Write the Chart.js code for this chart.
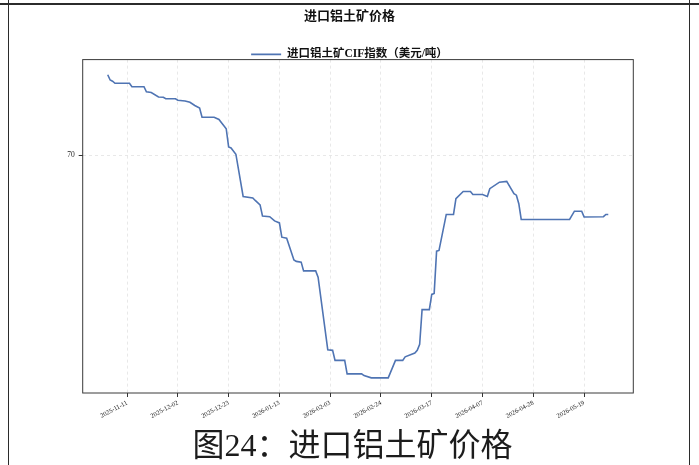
<!DOCTYPE html>
<html lang="zh-CN">
<head>
<meta charset="utf-8">
<title>进口铝土矿价格</title>
<script src="https://cdn.jsdelivr.net/npm/chart.js@4.4.1/dist/chart.umd.min.js"></script>
<style>
  html, body { margin: 0; padding: 0; background: #ffffff; }
  #wrap { position: relative; width: 699px; height: 465px; overflow: hidden; background: #ffffff; }
  #chart { position: absolute; left: 0; top: 0; }
  .rule { position: absolute; background: #2b2b2b; }
  #caption {
    position: absolute; left: 3px; top: 428px; width: 699px; text-align: center;
    font-family: "Liberation Serif", "Noto Sans CJK SC", serif; font-size: 32px; line-height: 35px;
    color: #1c1c1c; white-space: nowrap;
  }
</style>
</head>
<body>
<div id="wrap">
  <canvas id="chart" width="699" height="465"></canvas>
  <div class="rule" style="left:0;top:3px;width:699px;height:1.5px"></div>
  <div class="rule" style="left:8px;top:0;width:1.2px;height:465px"></div>
  <div class="rule" style="left:689px;top:0;width:1.2px;height:465px"></div>
  <div id="caption">图24：进口铝土矿价格</div>
</div>
<script>
// Guinea bauxite CIF index, USD per tonne (turning points of the series)
const priceDates = [
  '2025-11-03','2025-11-04','2025-11-05','2025-11-06','2025-11-12','2025-11-13','2025-11-18','2025-11-19',
  '2025-11-21','2025-11-24','2025-11-26','2025-11-27','2025-12-01','2025-12-02','2025-12-05','2025-12-07',
  '2025-12-09','2025-12-11','2025-12-12','2025-12-17','2025-12-19','2025-12-22','2025-12-23','2025-12-24',
  '2025-12-26','2025-12-29','2026-01-02','2026-01-03','2026-01-05','2026-01-06','2026-01-09','2026-01-11',
  '2026-01-13','2026-01-14','2026-01-16','2026-01-19','2026-01-20','2026-01-22','2026-01-23','2026-01-28',
  '2026-01-29','2026-02-02','2026-02-04','2026-02-05','2026-02-09','2026-02-10','2026-02-16','2026-02-17',
  '2026-02-20','2026-02-27','2026-03-02','2026-03-05','2026-03-06','2026-03-10','2026-03-11','2026-03-12',
  '2026-03-13','2026-03-16','2026-03-17','2026-03-18','2026-03-19','2026-03-20','2026-03-23','2026-03-26',
  '2026-03-27','2026-03-30','2026-04-02','2026-04-03','2026-04-07','2026-04-09','2026-04-10','2026-04-14',
  '2026-04-17','2026-04-20','2026-04-21','2026-04-22','2026-04-23','2026-05-13','2026-05-15','2026-05-18',
  '2026-05-19','2026-05-27','2026-05-28','2026-05-29'
];
const priceValues = [
  73.23, 73.02, 72.97, 72.89, 72.89, 72.75, 72.75, 72.55,
  72.52, 72.34, 72.33, 72.27, 72.27, 72.21, 72.18, 72.13,
  72.00, 71.90, 71.53, 71.53, 71.44, 71.07, 70.34, 70.30,
  70.05, 68.36, 68.30, 68.20, 68.02, 67.58, 67.55, 67.38,
  67.30, 66.73, 66.69, 65.82, 65.76, 65.73, 65.38, 65.38,
  65.13, 62.22, 62.20, 61.80, 61.80, 61.26, 61.26, 61.19,
  61.10, 61.10, 61.80, 61.80, 61.94, 62.09, 62.20, 62.44,
  63.83, 63.83, 64.44, 64.48, 66.17, 66.20, 67.64, 67.64,
  68.27, 68.56, 68.56, 68.44, 68.44, 68.36, 68.67, 68.93,
  68.96, 68.47, 68.41, 68.07, 67.44, 67.44, 67.77, 67.77,
  67.54, 67.55, 67.64, 67.64
];
const xTickLabels = ['2025-11-11','2025-12-02','2025-12-23','2026-01-13','2026-02-03',
                     '2026-02-24','2026-03-17','2026-04-07','2026-04-28','2026-05-19'];
const yTickValues = [70];
const seriesName = '进口铝土矿CIF指数（美元/吨）';
const chartTitle = '进口铝土矿价格';

const DAY = 86400000;
const origin = Date.parse(xTickLabels[0] + 'T00:00:00Z');
const toDay = s => (Date.parse(s + 'T00:00:00Z') - origin) / DAY;
const toLabel = d => new Date(origin + Math.round(d) * DAY).toISOString().slice(0, 10);

const points = priceDates.map((s, i) => ({ x: toDay(s), y: priceValues[i] }));

// axis limits with 5% breathing room around the data
const xs = points.map(p => p.x), ys = points.map(p => p.y);
const xLo = Math.min(...xs), xHi = Math.max(...xs);
const yLo = Math.min(...ys), yHi = Math.max(...ys);
const xPad = (xHi - xLo) * 0.05, yPad = (yHi - yLo) * 0.05;

const SERIF = '"Liberation Serif", "Noto Sans CJK SC", serif';

// plot frame drawn on all four sides
const frame = {
  id: 'frame',
  afterDatasetsDraw(chart) {
    const { ctx, chartArea: a } = chart;
    ctx.save();
    ctx.strokeStyle = '#3a3a3a';
    ctx.lineWidth = 1;
    ctx.strokeRect(a.left, a.top, a.right - a.left, a.bottom - a.top);
    ctx.restore();
  }
};

new Chart(document.getElementById('chart'), {
  type: 'line',
  data: {
    datasets: [{
      label: seriesName,
      data: points,
      borderColor: '#4f74b3',
      backgroundColor: '#4f74b3',
      borderWidth: 1.6,
      pointRadius: 0,
      tension: 0,
      fill: false
    }]
  },
  options: {
    responsive: false,
    animation: false,
    events: [],
    layout: { padding: 0 },
    plugins: {
      title: {
        display: true,
        text: chartTitle,
        color: '#111',
        font: { family: SERIF, size: 13, weight: 'bold' },
        padding: { top: 9, bottom: 14 }
      },
      legend: {
        display: true,
        position: 'top',
        align: 'center',
        maxHeight: 21,
        labels: {
          usePointStyle: true,
          pointStyle: 'line',
          pointStyleWidth: 30,
          padding: 10,
          color: '#111',
          font: { family: SERIF, size: 11.5, weight: 'bold' }
        }
      },
      tooltip: { enabled: false }
    },
    scales: {
      x: {
        type: 'linear',
        min: xLo - xPad,
        max: xHi + xPad,
        afterBuildTicks: axis => { axis.ticks = xTickLabels.map(s => ({ value: toDay(s) })); },
        afterFit: axis => { axis.height = 72; },
        ticks: {
          autoSkip: false,
          minRotation: 28,
          maxRotation: 28,
          padding: 2,
          color: '#222',
          font: { family: SERIF, size: 6.5 },
          callback: v => toLabel(v)
        },
        grid: { color: '#e2e2e2', lineWidth: 0.8, tickLength: 4, tickColor: '#333', tickBorderDash: [0, 0], tickWidth: 1 },
        border: { display: false, dash: [3, 3] }
      },
      y: {
        type: 'linear',
        position: 'left',
        min: yLo - yPad,
        max: yHi + yPad,
        afterBuildTicks: axis => { axis.ticks = yTickValues.map(v => ({ value: v })); },
        afterFit: axis => { axis.width = 82.7; },
        ticks: { padding: 4, color: '#222', font: { family: SERIF, size: 7.5 } },
        grid: { color: '#e2e2e2', lineWidth: 0.8, tickLength: 4, tickColor: '#333', tickBorderDash: [0, 0], tickWidth: 1 },
        border: { display: false, dash: [3, 3] }
      },
      yRight: {
        type: 'linear',
        position: 'right',
        min: 0,
        max: 1,
        afterFit: axis => { axis.width = 65.7; },
        ticks: { display: false },
        grid: { display: false },
        border: { display: false }
      }
    }
  },
  plugins: [frame]
});
</script>
</body>
</html>
